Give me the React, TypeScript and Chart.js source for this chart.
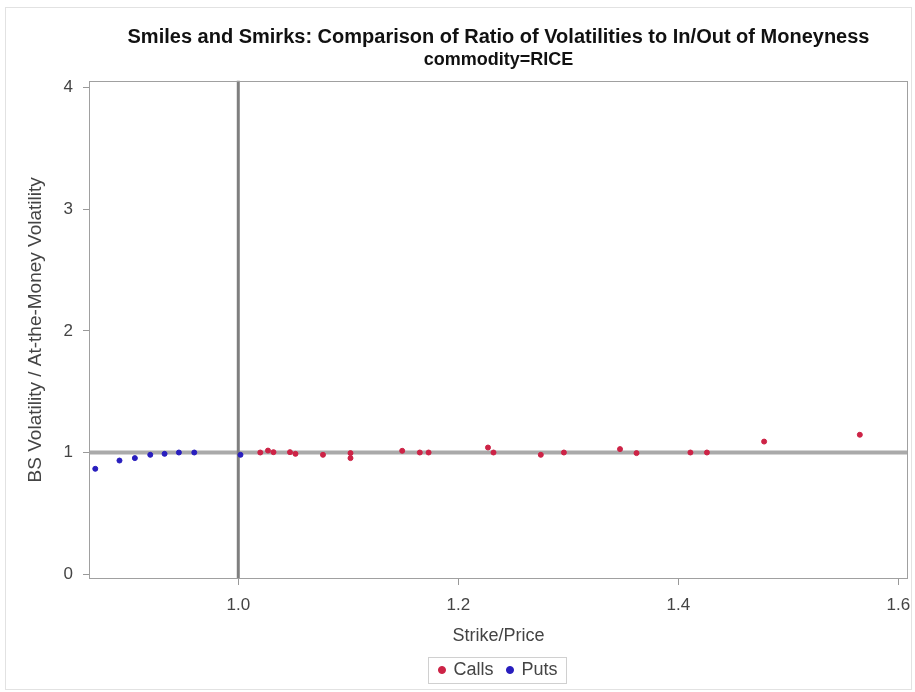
import React, { useEffect, useRef } from "react";
import { Chart, registerables } from "chart.js";

Chart.register(...registerables);

const titleText = "Smiles and Smirks: Comparison of Ratio of Volatilities to In/Out of Moneyness";
const subtitleText = "commodity=RICE";
const xAxisTitle = "Strike/Price";
const yAxisTitle = "BS Volatility / At-the-Money Volatility";

const callsX = [1.020, 1.027, 1.032, 1.047, 1.052, 1.077, 1.102, 1.102, 1.149, 1.165, 1.173, 1.227, 1.232, 1.275, 1.296, 1.347, 1.362, 1.411, 1.426, 1.478, 1.565];
const callsY = [1.0, 1.016, 1.003, 1.003, 0.989, 0.981, 0.995, 0.954, 1.014, 1.0, 1.0, 1.041, 1.0, 0.981, 1.0, 1.028, 0.995, 1.0, 1.0, 1.09, 1.146];

const putsX = [0.870, 0.892, 0.906, 0.920, 0.933, 0.946, 0.960, 1.002];
const putsY = [0.866, 0.934, 0.954, 0.981, 0.989, 1.0, 1.0, 0.981];

const xTicks = [1.0, 1.2, 1.4, 1.6];
const yTicks = [0, 1, 2, 3, 4];
const xRefValue = 1.0;
const yRefValue = 1.0;
const xMin = 0.8643;
const xMax = 1.6088;
const yMin = -0.04;
const yMax = 4.058;

const FONT = "'Liberation Sans', Arial, sans-serif";
const CALL_COLOR = "rgb(205,35,70)";
const PUT_COLOR = "rgb(40,30,190)";

const decorPlugin = {
  id: "decor",
  beforeDraw(chart: any) {
    const ctx = chart.ctx;
    ctx.save();
    ctx.fillStyle = "#ffffff";
    ctx.fillRect(0, 0, chart.width, chart.height);
    ctx.strokeStyle = "#e2e2e2";
    ctx.lineWidth = 1;
    ctx.strokeRect(5.5, 7.5, chart.width - 9, chart.height - 10);
    ctx.restore();
  },
  beforeDatasetsDraw(chart: any) {
    const ctx = chart.ctx;
    const a = chart.chartArea;
    const xs = chart.scales.x;
    const ys = chart.scales.y;
    ctx.save();
    ctx.beginPath();
    ctx.rect(a.left, a.top, a.right - a.left, a.bottom - a.top);
    ctx.clip();
    const yp = ys.getPixelForValue(yRefValue);
    ctx.strokeStyle = "#aaaaaa";
    ctx.lineWidth = 4;
    ctx.beginPath();
    ctx.moveTo(a.left, yp);
    ctx.lineTo(a.right, yp);
    ctx.stroke();
    const xp = xs.getPixelForValue(xRefValue);
    ctx.strokeStyle = "#7f7f7f";
    ctx.lineWidth = 3;
    ctx.beginPath();
    ctx.moveTo(xp, a.top);
    ctx.lineTo(xp, a.bottom);
    ctx.stroke();
    ctx.restore();
    ctx.save();
    ctx.strokeStyle = "#a0a0a0";
    ctx.lineWidth = 1;
    ctx.strokeRect(Math.round(a.left) + 0.5, Math.round(a.top) + 0.5, Math.round(a.right - a.left) - 1, Math.round(a.bottom - a.top) - 1);
    ctx.restore();
  },
  afterDraw(chart: any) {
    const lg = chart.legend;
    if (!lg || !lg.legendHitBoxes || !lg.legendHitBoxes.length) return;
    const hb = lg.legendHitBoxes;
    let l = Infinity, r = -Infinity, t = Infinity, b = -Infinity;
    hb.forEach((h: any) => {
      l = Math.min(l, h.left);
      r = Math.max(r, h.left + h.width);
      t = Math.min(t, h.top);
      b = Math.max(b, h.top + h.height);
    });
    const ctx = chart.ctx;
    ctx.save();
    ctx.strokeStyle = "#d0d0d0";
    ctx.lineWidth = 1;
    ctx.strokeRect(Math.round(l - 11) + 0.5, Math.round(t - 4) + 0.5, Math.round(r - l + 20), Math.round(b - t + 8));
    ctx.restore();
  },
};

export default function App() {
  const canvasRef = useRef<HTMLCanvasElement | null>(null);

  useEffect(() => {
    document.body.style.margin = "0";
    const canvas = canvasRef.current;
    if (!canvas) return;
    const chart = new Chart(canvas, {
      type: "scatter",
      data: {
        datasets: [
          {
            label: "Calls",
            data: callsX.map((x, i) => ({ x, y: callsY[i] })),
            backgroundColor: CALL_COLOR,
            borderColor: CALL_COLOR,
            pointRadius: 2.5,
            pointStyle: "circle",
          },
          {
            label: "Puts",
            data: putsX.map((x, i) => ({ x, y: putsY[i] })),
            backgroundColor: PUT_COLOR,
            borderColor: PUT_COLOR,
            pointRadius: 2.5,
            pointStyle: "circle",
          },
        ],
      },
      options: {
        responsive: false,
        animation: false,
        devicePixelRatio: 1,
        layout: { padding: { left: 0, right: 7, top: 0, bottom: 3 } },
        scales: {
          x: {
            type: "linear",
            min: xMin,
            max: xMax,
            afterBuildTicks: (s: any) => {
              s.ticks = xTicks.map((v) => ({ value: v }));
            },
            afterFit: (s: any) => {
              s.height = 68;
              s.paddingLeft = 0;
              s.paddingRight = 0;
            },
            grid: {
              drawOnChartArea: false,
              drawTicks: true,
              tickLength: 6,
              color: "#999999",
            },
            border: { display: false },
            ticks: {
              padding: 10,
              color: "#444444",
              font: { family: FONT, size: 17 },
              callback: (v: any) => Number(v).toFixed(1),
            },
            title: {
              display: true,
              text: xAxisTitle,
              color: "#444444",
              font: { family: FONT, size: 18 },
              padding: { top: 0, bottom: 0 },
            },
          },
          y: {
            type: "linear",
            min: yMin,
            max: yMax,
            afterBuildTicks: (s: any) => {
              s.ticks = yTicks.map((v) => ({ value: v }));
            },
            afterFit: (s: any) => {
              s.width = 89;
              s.paddingTop = 0;
              s.paddingBottom = 0;
            },
            grid: {
              drawOnChartArea: false,
              drawTicks: true,
              tickLength: 6,
              color: "#999999",
            },
            border: { display: false },
            ticks: {
              padding: 10,
              color: "#444444",
              font: { family: FONT, size: 17 },
              callback: (v: any) => String(v),
            },
            title: {
              display: true,
              text: yAxisTitle,
              color: "#444444",
              font: { family: FONT, size: 19 },
              padding: { top: 24, bottom: 0 },
            },
          },
        },
        plugins: {
          title: {
            display: true,
            fullSize: false,
            text: titleText,
            color: "#111111",
            font: { family: FONT, size: 20, weight: "bold" },
            padding: { top: 25, bottom: 0 },
          },
          subtitle: {
            display: true,
            fullSize: false,
            text: subtitleText,
            color: "#111111",
            font: { family: FONT, size: 18, weight: "bold" },
            padding: { top: 0, bottom: 10 },
          },
          legend: {
            display: true,
            fullSize: false,
            position: "bottom",
            labels: {
              usePointStyle: true,
              pointStyle: "circle",
              boxWidth: 5,
              boxHeight: 5,
              padding: 14,
              color: "#444444",
              font: { family: FONT, size: 18 },
            },
          },
          tooltip: { enabled: false },
        },
      },
      plugins: [decorPlugin],
    } as any);
    return () => chart.destroy();
  }, []);

  return (
    <div style={{ width: 915, height: 692, position: "relative" }}>
      <canvas ref={canvasRef} width={915} height={692} style={{ display: "block" }} />
    </div>
  );
}
